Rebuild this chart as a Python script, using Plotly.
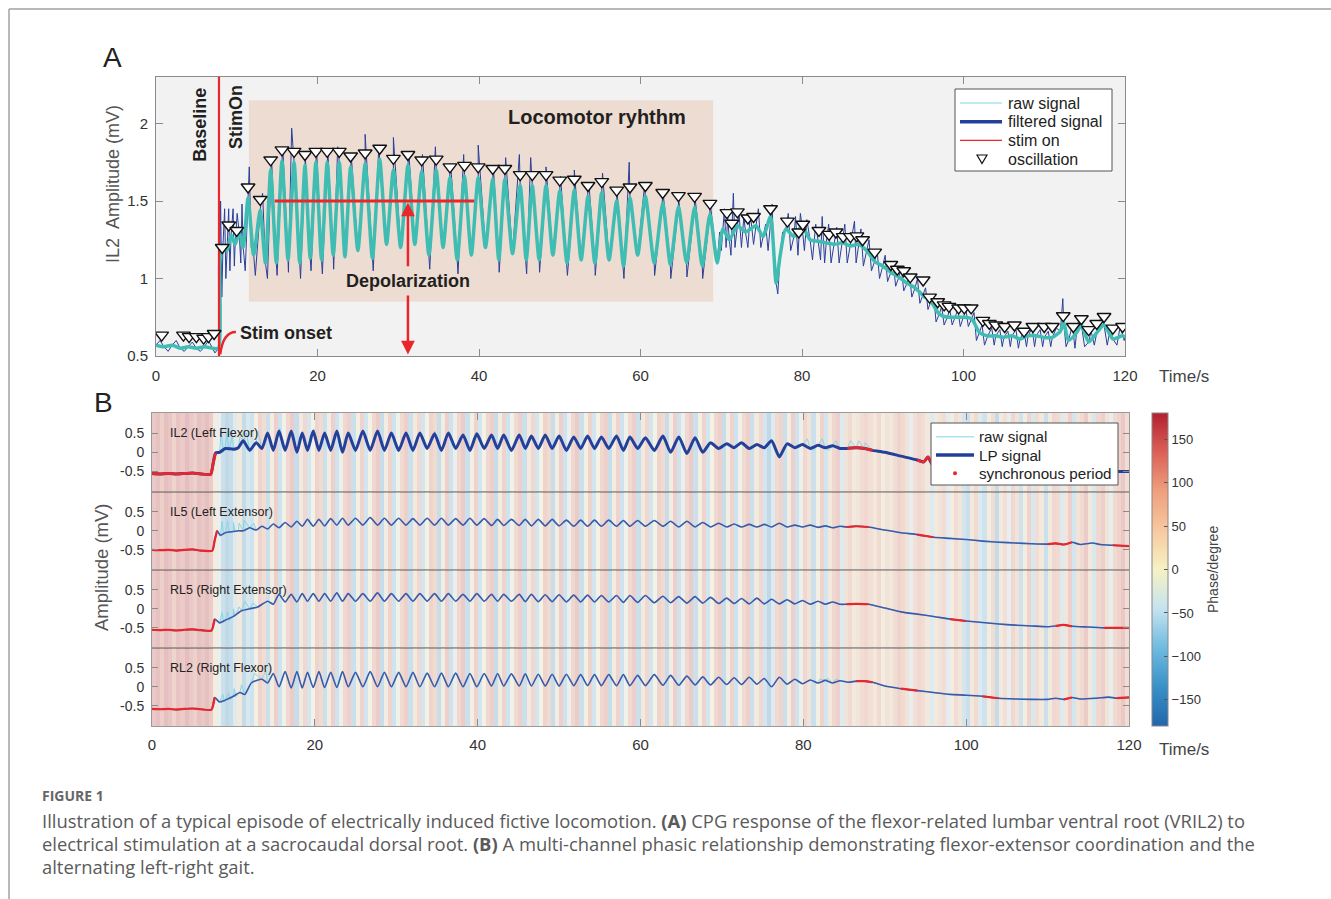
import numpy as np
import plotly.graph_objects as go

# ======================= PANEL A DATA =======================
A_stim_t = 7.8
A_filt_t = [0, 1, 2, 3, 4, 5, 6, 7, 7.75,
            7.9, 8.3, 8.8, 9.3, 9.8, 10.3, 10.8, 11.4, 12.1, 12.9, 13.55,
            14.2, 14.9, 15.6, 16.35, 17.1, 17.8, 18.45, 19.1, 19.8, 20.5,
            21.2, 21.95, 22.7, 23.4, 24.1, 25.0, 25.9, 26.8, 27.7, 28.55,
            29.4, 30.3, 31.2, 32.05, 32.9, 33.8, 34.7, 35.55, 36.4, 37.3,
            38.2, 39.05, 39.9, 40.8, 41.7, 42.45, 43.2, 44.15, 45.1, 45.85,
            46.6, 47.45, 48.3, 49.15, 50.0, 50.9, 51.8, 52.65, 53.5, 54.35,
            55.2, 56.1, 57.05, 57.9, 58.7, 59.65, 60.6, 61.7, 62.75, 63.7,
            64.7, 65.7, 66.7, 67.65, 68.6, 69.5,
            70.2, 71.0, 72.0, 73.0, 74.3, 75.2, 76.1, 76.8, 77.3, 78.0,
            79.0, 80.0, 81.0, 82.0, 83.0, 84.0, 85.0, 86.0, 87.0, 88.0,
            89.0, 90.0, 91.0, 92.0, 93.0, 94.0, 95.0, 96.0, 97.0, 98.0,
            99.0, 100.0, 101.0, 102.0, 103.0, 104.0, 105.0, 106.0, 107.0, 108.0,
            109.0, 110.0, 111.0, 112.0, 112.4, 113.0, 114.0, 114.6, 115.5, 116.5,
            117.4, 118.5, 119.7, 120.0]
A_filt_v = [0.57, 0.56, 0.57, 0.55, 0.56, 0.55, 0.56, 0.55, 0.55,
            1.1, 1.22, 1.18, 1.28, 1.22, 1.3, 1.2, 1.52, 1.15, 1.44, 1.1,
            1.70, 1.10, 1.76, 1.12, 1.75, 1.10, 1.73, 1.13, 1.75, 1.12,
            1.75, 1.15, 1.75, 1.14, 1.72, 1.18, 1.74, 1.13, 1.77, 1.22,
            1.70, 1.20, 1.73, 1.22, 1.69, 1.15, 1.70, 1.20, 1.65, 1.12,
            1.66, 1.15, 1.65, 1.20, 1.64, 1.12, 1.64, 1.16, 1.60, 1.12,
            1.60, 1.12, 1.60, 1.15, 1.565, 1.10, 1.57, 1.12, 1.53, 1.10,
            1.555, 1.12, 1.50, 1.08, 1.52, 1.15, 1.53, 1.10, 1.485, 1.09,
            1.465, 1.10, 1.46, 1.08, 1.415, 1.10,
            1.32, 1.25, 1.34, 1.30, 1.34, 1.27, 1.40, 0.97, 1.15, 1.32,
            1.27, 1.34, 1.25, 1.24, 1.23, 1.22, 1.23, 1.21, 1.22, 1.18,
            1.11, 1.08, 1.04, 1.01, 0.97, 0.94, 0.89, 0.85, 0.77, 0.75,
            0.75, 0.75, 0.74, 0.65, 0.63, 0.63, 0.62, 0.63, 0.61, 0.63,
            0.63, 0.62, 0.62, 0.66, 0.72, 0.60, 0.65, 0.70, 0.59, 0.65,
            0.70, 0.61, 0.63, 0.62]

# extra raw-signal excursions (noise and spikes) around the filtered trace
A_raw_t = [0.5, 1.5, 2.5, 3.5, 4.5, 5.5, 6.5, 7.3,
           8.0, 8.15, 8.5, 8.65, 9.0, 9.15, 9.55, 9.7, 10.05, 10.5,
           10.65, 11.05, 11.55, 11.8, 12.3, 13.2, 13.8,
           14.3, 15.7, 16.8, 18.5, 19.9, 21.3, 22.5, 24.2, 25.9, 27.6,
           29.4, 31.3, 33.0, 34.6, 36.5, 38.1, 39.9, 41.8, 43.3, 45.0,
           46.4, 48.3, 50.1, 51.8, 53.6, 55.3, 57.1, 58.6, 60.5, 62.8,
           64.7, 66.7, 68.6,
           15.0, 16.4, 17.9, 19.2, 20.6, 22.0, 26.9, 33.9, 37.4, 42.5,
           45.9, 47.5, 50.95, 54.4, 57.95, 61.75, 63.75, 65.75, 67.7,
           69.8, 70.0, 70.4, 70.6, 70.8, 71.2, 71.5, 71.7, 72.2, 72.5,
           72.8, 73.3, 73.6, 74.0, 74.6, 74.9, 75.5, 75.8, 76.3, 76.6,
           77.0, 77.6, 78.3, 78.6, 79.2, 79.5, 79.8, 80.3, 80.6, 81.3,
           81.7, 82.3, 82.5, 82.8, 83.3, 83.6, 84.3, 84.6, 85.3, 85.6,
           86.3, 86.5, 86.7, 87.3, 87.6, 88.3, 88.6, 89.3, 89.6, 90.3,
           90.6, 91.3, 91.6, 92.3, 92.6, 93.3, 93.6, 94.3, 94.6, 95.3,
           95.6, 96.3, 96.6, 97.3, 97.6, 98.3, 98.6, 99.3, 99.6, 100.3,
           100.6, 101.3, 101.6, 102.3, 102.6, 103.5, 103.8, 104.5, 104.8, 105.5,
           105.8, 106.5, 106.8, 107.5, 107.8, 108.5, 108.8, 109.5, 109.8, 110.5,
           110.8, 111.5, 112.3, 112.7, 113.5, 113.8, 114.3, 115.0, 115.8, 116.2,
           117.0, 117.8, 118.2, 119.0, 119.4, 119.9]
A_raw_v = [0.6, 0.53, 0.6, 0.53, 0.59, 0.53, 0.6, 0.52,
           1.5, 0.88, 1.45, 1.0, 1.45, 1.05, 1.45, 1.08, 1.42, 1.1,
           1.48, 1.05, 1.72, 1.2, 1.02, 1.55, 1.0,
           1.78, 1.85, 1.97, 1.78, 1.82, 1.8, 1.85, 1.78, 1.93, 1.86,
           1.91, 1.82, 1.8, 1.85, 1.73, 1.8, 1.86, 1.7, 1.78, 1.8,
           1.78, 1.72, 1.66, 1.7, 1.62, 1.68, 1.56, 1.75, 1.6, 1.55,
           1.52, 1.55, 1.5,
           1.02, 1.04, 1.0, 1.05, 1.03, 1.06, 1.05, 1.06, 1.03, 1.04,
           1.03, 1.04, 1.02, 1.02, 1.0, 1.02, 1.0, 1.01, 1.0,
           1.3, 1.18, 1.45, 1.2, 1.4, 1.15, 1.55, 1.2, 1.42, 1.2,
           1.4, 1.2, 1.42, 1.22, 1.45, 1.2, 1.35, 1.18, 1.48, 1.0,
           0.9, 1.3, 1.42, 1.18, 1.4, 1.15, 1.42, 1.18, 1.38, 1.12,
           1.35, 1.12, 1.4, 1.1, 1.35, 1.1, 1.33, 1.1, 1.35, 1.1,
           1.3, 1.37, 1.1, 1.32, 1.08, 1.25, 1.05, 1.18, 1.0, 1.15,
           0.98, 1.1, 0.95, 1.07, 0.92, 1.03, 0.88, 1.0, 0.84, 0.94,
           0.8, 0.9, 0.72, 0.82, 0.7, 0.8, 0.7, 0.8, 0.69, 0.8,
           0.69, 0.78, 0.6, 0.7, 0.57, 0.68, 0.57, 0.67, 0.56, 0.66,
           0.56, 0.67, 0.55, 0.66, 0.56, 0.68, 0.56, 0.67, 0.56, 0.66,
           0.56, 0.68, 0.87, 0.56, 0.7, 0.55, 0.75, 0.56, 0.66, 0.57,
           0.75, 0.57, 0.68, 0.57, 0.69, 0.6]

A_osc_t = [0.7, 3.4, 4.1, 5.0, 5.9, 6.5, 7.2,
           8.2, 9.0, 10.0, 11.4, 12.9,
           14.2, 15.6, 17.1, 18.45, 19.8, 21.2, 22.7, 24.1, 25.9, 27.7,
           29.4, 31.2, 32.9, 34.7, 36.4, 38.2, 39.9, 41.7, 43.2, 45.1,
           46.6, 48.3, 50.0, 51.8, 53.5, 55.2, 57.05, 58.7, 60.6, 62.75,
           64.7, 66.7, 68.6,
           70.7, 71.3, 72.0, 73.3, 74.0, 76.1, 78.2, 79.6, 80.1, 82.1,
           83.35, 84.2, 85.1, 86.0, 86.8, 87.5, 89.0, 91.0, 91.8, 92.6,
           93.4, 95.0, 95.8, 96.8, 97.6, 98.2, 99.4, 100.1, 100.95, 102.4,
           103.2, 104.0, 105.1, 106.3, 107.5, 108.6, 110.0, 111.0, 112.35, 113.6,
           114.6, 115.5, 116.5, 117.4, 118.5, 119.7]
A_osc_v = [0.635, 0.635, 0.625, 0.625, 0.615, 0.625, 0.645,
           1.20, 1.345, 1.31, 1.59, 1.51,
           1.765, 1.83, 1.82, 1.80, 1.82, 1.82, 1.82, 1.79, 1.81, 1.84,
           1.775, 1.80, 1.765, 1.77, 1.72, 1.73, 1.72, 1.71, 1.71, 1.67,
           1.67, 1.67, 1.635, 1.64, 1.60, 1.625, 1.57, 1.59, 1.60, 1.555,
           1.535, 1.53, 1.485,
           1.425, 1.356, 1.43, 1.39, 1.40, 1.45, 1.37, 1.30, 1.35, 1.31,
           1.285, 1.30, 1.27, 1.27, 1.275, 1.25, 1.17, 1.09, 1.06, 1.05,
           1.01, 0.99, 0.88, 0.85, 0.83, 0.82, 0.81, 0.81, 0.81, 0.73,
           0.71, 0.70, 0.69, 0.70, 0.66, 0.69, 0.69, 0.69, 0.76, 0.69,
           0.74, 0.67, 0.71, 0.755, 0.68, 0.69]

A_box = [11.5, 69.0, 0.85, 2.15]          # locomotor rhythm window (t0, t1, v0, v1)
A_depol_line = [14.7, 39.4, 1.5]          # mean depolarisation level
A_depol_t = 31.2

# ======================= PANEL B DATA =======================
B_hi_t = [11.2, 12.8, 14.2, 15.6, 17.1, 18.45, 19.8, 21.2, 22.7, 24.1,
          25.9, 27.7, 29.4, 31.2, 32.9, 34.7, 36.4, 38.2, 39.9, 41.7,
          43.2, 45.1, 46.6, 48.3, 50.0, 51.8, 53.5, 55.2, 57.05, 58.7,
          60.6, 62.75, 64.7, 66.7, 68.6, 70.6, 72.4, 74.3, 76.1, 78.0,
          79.9, 81.8, 83.6]
B_lo_t = [12.0, 13.5, 14.9, 16.35, 17.8, 19.1, 20.5, 21.95, 23.4, 25.0,
          26.8, 28.55, 30.3, 32.05, 33.8, 35.55, 37.3, 39.05, 40.8, 42.45,
          44.15, 45.85, 47.45, 49.15, 50.9, 52.65, 54.35, 56.1, 57.9, 59.65,
          61.7, 63.7, 65.7, 67.65, 69.6, 71.5, 73.35, 75.2, 77.05, 78.95,
          80.85, 82.7, 84.5]

# IL2 (left flexor): values at B_hi_t and B_lo_t
IL2_hi = [0.3, 0.25, 0.5, 0.55, 0.55, 0.5, 0.55, 0.5, 0.55, 0.5,
          0.55, 0.55, 0.5, 0.5, 0.5, 0.48, 0.5, 0.45, 0.48, 0.45,
          0.45, 0.45, 0.42, 0.45, 0.42, 0.4, 0.42, 0.4, 0.42, 0.4,
          0.38, 0.42, 0.4, 0.38, 0.25, 0.22, 0.25, 0.2, 0.3, 0.22,
          0.2, 0.18, 0.17]
IL2_lo = [0.05, 0.1, 0.05, 0.05, 0.0, 0.05, 0.05, 0.05, 0.0, 0.05,
          0.05, 0.05, 0.05, 0.05, 0.1, 0.05, 0.1, 0.05, 0.1, 0.1,
          0.05, 0.1, 0.1, 0.1, 0.05, 0.1, 0.1, 0.1, 0.05, 0.1,
          0.05, 0.0, -0.03, 0.0, 0.1, 0.12, 0.1, 0.12, -0.12, 0.12,
          0.1, 0.12, 0.1]
IL2_pre_t = [0, 1, 2, 3, 4, 5, 6, 7.2, 7.5, 7.8, 8.3, 9.0, 10.0, 10.6]
IL2_pre_v = [-0.55, -0.56, -0.55, -0.56, -0.55, -0.54, -0.56, -0.57, -0.3, -0.02, 0.0, 0.1, 0.08, 0.12]
IL2_post_t = [85.4, 86.5, 87.5, 88.5, 90, 92, 94, 94.8, 95.3, 95.8, 97, 100, 105, 110, 115, 118, 120]
IL2_post_v = [0.1, 0.12, 0.1, 0.05, 0.0, -0.1, -0.2, -0.25, -0.12, -0.3, -0.35, -0.4, -0.45, -0.48, -0.5, -0.5, -0.5]
IL2_spk_t = [8.5, 8.75, 9.2, 9.45, 9.9, 10.2, 10.8, 11.6, 13.0, 15.7, 19.9, 27.7, 34.7,
             80.5, 81.2, 82.3, 83.1, 84.0, 85.8, 86.8, 87.6]
IL2_spk_v = [0.55, 0.0, 0.5, 0.05, 0.45, 0.05, 0.4, 0.5, 0.55, 0.62, 0.6, 0.6, 0.55,
             0.35, 0.05, 0.35, 0.05, 0.3, 0.3, 0.3, 0.25]
IL2_sync = [(0, 7.8), (85.4, 88.5), (94, 95.8)]

# IL5 (left extensor): peaks at B_lo_t, troughs at B_hi_t
IL5_hi = [0.08, 0.12, 0.18, 0.22, 0.25, 0.3, 0.3, 0.32, 0.33, 0.33,
          0.35, 0.33, 0.33, 0.32, 0.33, 0.33, 0.32, 0.33, 0.32, 0.3,
          0.3, 0.3, 0.3, 0.3, 0.28, 0.28, 0.28, 0.28, 0.27, 0.27,
          0.27, 0.25, 0.25, 0.22, 0.2, 0.18, 0.17, 0.17, 0.2, 0.15,
          0.15, 0.13, 0.12]
IL5_lo = [0.0, 0.02, 0.05, 0.08, 0.1, 0.12, 0.12, 0.13, 0.15, 0.15,
          0.15, 0.15, 0.15, 0.15, 0.15, 0.15, 0.15, 0.15, 0.15, 0.14,
          0.14, 0.14, 0.13, 0.13, 0.13, 0.12, 0.12, 0.12, 0.12, 0.12,
          0.12, 0.12, 0.1, 0.1, 0.1, 0.1, 0.1, 0.1, 0.1, 0.1,
          0.1, 0.09, 0.08]
IL5_pre_t = [0, 1, 2, 3, 4, 5, 6, 7.4, 7.7, 8.0, 8.4, 9.0, 10.0, 10.6]
IL5_pre_v = [-0.5, -0.51, -0.5, -0.52, -0.5, -0.49, -0.52, -0.52, -0.25, 0.0, -0.12, -0.05, -0.02, 0.0]
IL5_post_t = [85.3, 86.5, 88, 90, 92, 94, 96, 98, 100, 102, 104, 106, 108, 110, 111, 112, 113, 114, 115.5, 116.5, 118, 120]
IL5_post_v = [0.1, 0.12, 0.1, 0.02, -0.05, -0.1, -0.17, -0.2, -0.23, -0.27, -0.3, -0.32, -0.34, -0.35, -0.33, -0.36, -0.3, -0.36, -0.32, -0.36, -0.38, -0.4]
IL5_spk_t = [8.6, 8.8, 9.3, 9.5, 10.0, 10.2, 10.7, 11.3, 12.5]
IL5_spk_v = [0.25, -0.1, 0.25, -0.05, 0.22, -0.02, 0.2, 0.28, 0.2]
IL5_sync = [(0, 8.0), (85.3, 88), (94, 96), (110, 113), (118, 120)]

# RL5 (right extensor): peaks at B_hi_t, troughs at B_lo_t
RL5_hi = [None, None, 0.2, 0.38, 0.38, 0.4, 0.4, 0.4, 0.42, 0.4,
          0.4, 0.42, 0.4, 0.4, 0.4, 0.4, 0.4, 0.38, 0.4, 0.38,
          0.38, 0.38, 0.38, 0.37, 0.37, 0.36, 0.36, 0.35, 0.35, 0.35,
          0.35, 0.33, 0.32, 0.32, 0.3, 0.28, 0.27, 0.28, 0.25, 0.24,
          0.22, 0.2, 0.18]
RL5_lo = [None, None, 0.12, 0.18, 0.18, 0.2, 0.2, 0.2, 0.2, 0.2,
          0.2, 0.2, 0.2, 0.2, 0.2, 0.2, 0.2, 0.2, 0.2, 0.2,
          0.2, 0.19, 0.19, 0.19, 0.18, 0.18, 0.18, 0.18, 0.17, 0.17,
          0.16, 0.16, 0.15, 0.15, 0.14, 0.14, 0.13, 0.13, 0.13, 0.13,
          0.12, 0.12, 0.12]
RL5_pre_t = [0, 1, 2, 3, 4, 5, 6, 7.3, 7.7, 8.3, 9.0, 10.0, 11.0, 12.0, 13.0]
RL5_pre_v = [-0.55, -0.56, -0.55, -0.57, -0.55, -0.54, -0.56, -0.57, -0.27, -0.37, -0.3, -0.2, -0.05, 0.0, 0.05]
RL5_post_t = [85.3, 86.5, 88, 90, 92, 94, 96, 98, 100, 102, 104, 106, 108, 110, 111, 112, 113, 115, 117, 118, 120]
RL5_post_v = [0.12, 0.13, 0.12, 0.02, -0.08, -0.14, -0.2, -0.27, -0.32, -0.36, -0.4, -0.43, -0.45, -0.47, -0.45, -0.42, -0.46, -0.48, -0.5, -0.5, -0.5]
RL5_spk_t = [8.6, 8.8, 9.3, 9.5, 10.0, 10.2, 10.7, 11.4, 12.4]
RL5_spk_v = [-0.1, -0.35, -0.08, -0.3, 0.0, -0.2, 0.05, 0.2, 0.15]
RL5_sync = [(0, 7.7), (85.3, 88), (98, 100), (111, 113), (117, 120)]

# RL2 (right flexor): peaks at B_lo_t, troughs at B_hi_t
RL2_hi = [None, 0.2, 0.35, 0.4, 0.4, 0.38, 0.4, 0.38, 0.4, 0.38,
          0.4, 0.38, 0.38, 0.38, 0.36, 0.36, 0.36, 0.35, 0.35, 0.35,
          0.34, 0.34, 0.33, 0.33, 0.33, 0.32, 0.32, 0.32, 0.32, 0.3,
          0.32, 0.3, 0.28, 0.26, 0.25, 0.24, 0.25, 0.22, 0.25, 0.2,
          0.18, 0.17, 0.16]
RL2_lo = [None, None, 0.1, 0.0, -0.03, -0.03, -0.02, -0.02, -0.02, 0.0,
          0.0, 0.0, 0.0, 0.0, 0.0, 0.0, 0.0, 0.0, 0.0, 0.02,
          0.02, 0.02, 0.02, 0.02, 0.02, 0.03, 0.03, 0.03, 0.03, 0.03,
          0.03, 0.04, 0.04, 0.05, 0.05, 0.06, 0.06, 0.07, 0.0, 0.07,
          0.08, 0.1, 0.1]
RL2_pre_t = [0, 1, 2, 3, 4, 5, 6, 7.3, 7.7, 8.3, 9.0, 10.0, 10.8, 11.4, 12.2]
RL2_pre_v = [-0.58, -0.59, -0.58, -0.6, -0.58, -0.57, -0.59, -0.6, -0.28, -0.4, -0.35, -0.25, -0.15, -0.2, 0.1]
RL2_post_t = [85.5, 86.5, 87.5, 88.5, 90, 92, 94, 96, 98, 100, 102, 104, 106, 108, 110, 111, 112, 113, 114, 116, 117.5, 118.5, 120]
RL2_post_v = [0.12, 0.15, 0.15, 0.12, 0.02, -0.05, -0.1, -0.15, -0.2, -0.22, -0.25, -0.3, -0.32, -0.33, -0.33, -0.3, -0.33, -0.28, -0.32, -0.3, -0.27, -0.3, -0.28]
RL2_spk_t = [8.7, 8.9, 9.4, 9.6, 10.1, 10.3, 11.0, 12.6, 14.0, 82, 83, 84]
RL2_spk_v = [-0.2, -0.4, -0.15, -0.33, -0.05, -0.25, 0.05, 0.35, 0.42, 0.2, 0.22, 0.2]
RL2_sync = [(0, 7.7), (86.5, 88.5), (92, 94), (102, 104), (112, 113), (118.5, 120)]

# phase (degrees) in 0.5 s bins from 0 to 120 s
phase_bin = 0.5
phase_deg = [
    140, 155, 125, 160, 145, 110, 150, 135, 165, 140, 120, 155, 140, 160, 130,
    20, -30, -100, -130, -110, -60, 40, -120, -70,
    -90, 10, 110, 80, -100, 20, 120, -90, -10, 100,
    130, -110, 30, 100, -80, 0, 110, 90, -100, 20,
    120, -90, -20, 100, 120, -100, 10, 110, -80, 0,
    100, 130, -110, 20, 110, -90, -10, 90, 120, -100,
    30, 100, -80, 0, 110, 90, -110, 20, 120, -90,
    -20, 100, 130, -100, 10, 110, -80, 0, 100, 120,
    -110, 20, 110, -90, -10, 90, 120, -100, 30, 100,
    -80, 0, 110, 90, -110, 20, 120, -90, -20, 100,
    130, -100, 10, 110, -80, 0, 100, 120, -110, 20,
    110, -90, -10, 90, 120, -100, 30, 100, -80, 0,
    110, 90, -110, 20, 120, -90, -20, 100, 130, -100,
    10, 110, -80, 0, 100, 120, -110, 20, 110, -90,
    -10, 90, 120, -100, 30, 100, -80, -130, -60, 90,
    110, -100, 20, 120, -90, -20, 100, 60, -100, 10,
    110, -80, 40, 100, 120, -60,
    60, 90, 30, 50, 80, 100, 70, 40, 90, 20,
    60, 40, 80, 110, 90, 60, -40, 70, 100, 80,
    40, -60, 30, 60, 80, -50, 20, 80, 50, -80,
    -100, 40, 90, -60, -90, 20, 80, -120, 30, 70,
    -40, 100, 60, -90, 20, 110, -70, 80, 40, -100,
    30, 100, 90, -60, 50, 120, -80, 60, 90, 130,
    40, -70, 100, 120, 60, -40, 90, 110, 140, 80]

channel_names = ["IL2 (Left Flexor)", "IL5 (Left Extensor)", "RL5 (Right Extensor)", "RL2 (Right Flexor)"]
colorbar_ticks = [-150, -100, -50, 0, 50, 100, 150]
legendA_labels = ["raw signal", "filtered signal", "stim on", "oscillation"]
legendB_labels = ["raw signal", "LP signal", "synchronous period"]

# ======================= STYLE =======================
W, H = 1331, 899
def fx(p):
    return p / W
def fy(p):
    return 1 - p / H

FONT = "Liberation Sans, Arial, Helvetica, sans-serif"
CAPFONT = "Open Sans, sans-serif"
TEAL = "#3fbdb3"
DARKBLUE = "#2b3f99"
RED = "#e8262b"
CYAN = "#86d6e6"
LEG_CYAN = "#a9e3ec"
LEG_BLUE = "#22409a"
phase_colorscale = [[0.0, '#2166ac'], [0.125, '#3a90c8'], [0.25, '#6fbbe0'], [0.375, '#c5e3ef'],
                    [0.5, '#f6f2c4'], [0.625, '#f7c9a0'], [0.75, '#ef9f7c'], [0.875, '#dc6057'],
                    [1.0, '#b2202e']]


def merge(*pairs):
    t = []
    v = []
    for tt, vv in pairs:
        for a, b in zip(tt, vv):
            if b is not None:
                t.append(a)
                v.append(b)
    order = np.argsort(t, kind="stable")
    return np.array(t)[order], np.array(v)[order]


fig = go.Figure()

# ---------- Panel A ----------
rawA_t, rawA_v = merge((A_filt_t, A_filt_v), (A_raw_t, A_raw_v))
fig.add_trace(go.Scatter(x=rawA_t, y=rawA_v, mode="lines", line=dict(color=DARKBLUE, width=1.0),
                         hoverinfo="skip", xaxis="x", yaxis="y"))
fig.add_trace(go.Scatter(x=A_filt_t, y=A_filt_v, mode="lines",
                         line=dict(color=TEAL, width=3.5, shape="spline", smoothing=0.6),
                         xaxis="x", yaxis="y"))
fig.add_trace(go.Scatter(x=[A_stim_t, A_stim_t], y=[0.5, 2.3], mode="lines",
                         line=dict(color=RED, width=2.2), xaxis="x", yaxis="y"))
fig.add_trace(go.Scatter(x=A_osc_t, y=A_osc_v, mode="markers",
                         marker=dict(symbol="triangle-down", size=12, color="white",
                                     line=dict(color="#111", width=1.4)),
                         xaxis="x", yaxis="y"))

# ---------- Panel B ----------
channels = [
    (IL2_pre_t, IL2_pre_v, IL2_post_t, IL2_post_v, (B_hi_t, IL2_hi), (B_lo_t, IL2_lo), IL2_spk_t, IL2_spk_v, IL2_sync),
    (IL5_pre_t, IL5_pre_v, IL5_post_t, IL5_post_v, (B_lo_t, IL5_hi), (B_hi_t, IL5_lo), IL5_spk_t, IL5_spk_v, IL5_sync),
    (RL5_pre_t, RL5_pre_v, RL5_post_t, RL5_post_v, (B_hi_t, RL5_hi), (B_lo_t, RL5_lo), RL5_spk_t, RL5_spk_v, RL5_sync),
    (RL2_pre_t, RL2_pre_v, RL2_post_t, RL2_post_v, (B_lo_t, RL2_hi), (B_hi_t, RL2_lo), RL2_spk_t, RL2_spk_v, RL2_sync),
]
YR = [-1.03, 1.02]
for i, ch in enumerate(channels):
    pre_t, pre_v, post_t, post_v, hi, lo, spk_t, spk_v, sync = ch
    xa = "x%d" % (i + 2)
    ya = "y%d" % (i + 2)
    fig.add_trace(go.Heatmap(z=[phase_deg], x0=phase_bin / 2, dx=phase_bin, y=YR,
                             zmin=-180, zmax=180, colorscale=phase_colorscale, showscale=False,
                             opacity=0.27, hoverinfo="skip", xaxis=xa, yaxis=ya))
    lp_t, lp_v = merge((pre_t, pre_v), hi, lo, (post_t, post_v))
    raw_t, raw_v = merge((lp_t, lp_v), (spk_t, spk_v))
    fig.add_trace(go.Scatter(x=raw_t, y=raw_v, mode="lines", line=dict(color=CYAN, width=1),
                             hoverinfo="skip", xaxis=xa, yaxis=ya))
    lw = 3 if i == 0 else 1.6
    lc = "#23409a" if i == 0 else "#3b5aa8"
    fig.add_trace(go.Scatter(x=lp_t, y=lp_v, mode="lines",
                             line=dict(color=lc, width=lw, shape="spline", smoothing=0.6),
                             xaxis=xa, yaxis=ya))
    for (a, b) in sync:
        m = (lp_t >= a) & (lp_t <= b)
        fig.add_trace(go.Scatter(x=lp_t[m], y=lp_v[m], mode="lines",
                                 line=dict(color=RED, width=lw - 0.2 if i == 0 else 2.2,
                                           shape="spline", smoothing=0.6),
                                 xaxis=xa, yaxis=ya))

# colorbar holder (point lies outside the visible x range)
fig.add_trace(go.Scatter(x=[-50], y=[0], mode="markers", hoverinfo="skip",
                         marker=dict(color=[0], cmin=-180, cmax=180, colorscale=phase_colorscale, size=2,
                                     showscale=True,
                                     colorbar=dict(thickness=16, thicknessmode="pixels",
                                                   len=313 / H, lenmode="fraction",
                                                   x=fx(1152), xanchor="left", y=fy(569.5), yanchor="middle",
                                                   xpad=0, ypad=0, outlinewidth=1, outlinecolor="#888",
                                                   tickvals=colorbar_ticks, ticks="inside", ticklen=4,
                                                   tickcolor="#555",
                                                   tickfont=dict(size=13, color="#333", family=FONT))),
                         xaxis="x2", yaxis="y2"))

# ---------- Layout ----------
axis_common = dict(showgrid=False, zeroline=False, showline=True, linecolor="#8a8a8a", linewidth=1,
                   tickcolor="#8a8a8a", ticklen=7, tickfont=dict(size=15, color="#333", family=FONT))

layout = dict(
    width=W, height=H, margin=dict(l=0, r=0, t=0, b=0),
    template="none", paper_bgcolor="white", plot_bgcolor="#f2f2f2",
    font=dict(family=FONT, color="#333"), showlegend=False,
    xaxis=dict(domain=[fx(156), fx(1125)], range=[0, 120], anchor="y",
               tickvals=[0, 20, 40, 60, 80, 100, 120], ticks="inside", mirror="ticks",
               ticklabelstandoff=6, **axis_common),
    yaxis=dict(domain=[fy(356), fy(77)], range=[0.5, 2.3], anchor="x",
               tickvals=[0.5, 1, 1.5, 2], ticktext=["0.5", "1", "1.5", "2"],
               ticks="inside", mirror="ticks", ticklabelstandoff=4, **axis_common),
)

strip_px = [(413, 492), (492, 570), (570, 648), (648, 726)]
for i, (top, bot) in enumerate(strip_px):
    k = i + 2
    xa = dict(domain=[fx(152), fx(1129)], range=[0, 120], anchor="y%d" % k,
              tickvals=[0, 20, 40, 60, 80, 100, 120], **axis_common)
    xa["linecolor"] = "#9a9a9a"
    if i == 0:
        xa.update(side="top", ticks="inside", showticklabels=False, mirror=True)
    elif i == 3:
        xa.update(side="bottom", ticks="inside", showticklabels=True, mirror=True, ticklabelstandoff=5)
    else:
        xa.update(ticks="", showticklabels=False, mirror=True)
    ya = dict(domain=[fy(bot), fy(top)], range=YR, anchor="x%d" % k,
              tickvals=[-0.5, 0, 0.5], ticktext=["-0.5", "0", "0.5"], ticks="inside",
              mirror="ticks", ticklabelstandoff=4, **axis_common)
    ya["tickfont"] = dict(size=14, color="#333", family=FONT)
    ya["ticklen"] = 6
    ya["linecolor"] = "#9a9a9a"
    layout["xaxis%d" % k] = xa
    layout["yaxis%d" % k] = ya

fig.update_layout(**layout)


def pline(x0, x1, y, color, width):
    return dict(type="line", xref="paper", yref="paper", x0=fx(x0), x1=fx(x1), y0=fy(y), y1=fy(y),
                line=dict(color=color, width=width))


def prect(x0, y0, x1, y1):
    return dict(type="rect", xref="paper", yref="paper", x0=fx(x0), x1=fx(x1), y0=fy(y1), y1=fy(y0),
                fillcolor="white", line=dict(color="#555", width=1))


# shapes
tri_x, tri_y = 982, 159
shapes = [
    dict(type="rect", xref="x", yref="y", x0=A_box[0], x1=A_box[1], y0=A_box[2], y1=A_box[3],
         fillcolor="#ecdcd2", line=dict(width=0), layer="below"),
    dict(type="line", xref="x", yref="y", x0=A_depol_line[0], x1=A_depol_line[1],
         y0=A_depol_line[2], y1=A_depol_line[2], line=dict(color=RED, width=3)),
    dict(type="path", xref="x", yref="y", path="M 9.9,0.655 Q 8.3,0.655 7.95,0.51",
         line=dict(color=RED, width=2.5)),
    # figure frame
    dict(type="line", xref="paper", yref="paper", x0=fx(9), x1=1, y0=fy(9), y1=fy(9),
         line=dict(color="#a0a0a0", width=1.5)),
    dict(type="line", xref="paper", yref="paper", x0=fx(9), x1=fx(9), y0=0, y1=fy(9),
         line=dict(color="#a0a0a0", width=1.5)),
    # legend A
    prect(955, 89, 1112, 171),
    pline(960, 1002, 103, LEG_CYAN, 1.5),
    pline(960, 1002, 121.7, LEG_BLUE, 3.5),
    pline(960, 1002, 140.3, RED, 1.2),
    dict(type="path", xref="paper", yref="paper",
         path="M %f,%f L %f,%f L %f,%f Z" % (fx(tri_x - 5), fy(tri_y - 4), fx(tri_x + 5), fy(tri_y - 4),
                                               fx(tri_x), fy(tri_y + 4.5)),
         line=dict(color="#111", width=1.2), fillcolor="white"),
    # legend B
    prect(931, 423, 1118, 485),
    pline(936, 974, 436.7, LEG_CYAN, 1.5),
    pline(936, 974, 455, LEG_BLUE, 3.5),
    dict(type="circle", xref="paper", yref="paper", x0=fx(953), x1=fx(957), y0=fy(475.3), y1=fy(471.3),
         fillcolor=RED, line=dict(width=0)),
]
fig.update_layout(shapes=shapes)

ann = []
bold = dict(family=FONT, color="#231f20")
ann += [
    dict(x=5.4, y=1.99, xref="x", yref="y", text="<b>Baseline</b>", textangle=-90, showarrow=False,
         font=dict(size=18, **bold)),
    dict(x=10.0, y=2.04, xref="x", yref="y", text="<b>StimOn</b>", textangle=-90, showarrow=False,
         font=dict(size=18, **bold)),
    dict(x=54.6, y=2.04, xref="x", yref="y", text="<b>Locomotor ryhthm</b>", showarrow=False,
         font=dict(size=20, **bold)),
    dict(x=10.2, y=0.65, xref="x", yref="y", text="<b>Stim onset</b>", showarrow=False, xanchor="left",
         font=dict(size=18, **bold)),
    dict(x=A_depol_t, y=0.985, xref="x", yref="y", text="<b>Depolarization</b>", showarrow=False,
         font=dict(size=18, **bold)),
    dict(x=A_depol_t, y=1.49, ax=A_depol_t, ay=1.07, xref="x", yref="y", axref="x", ayref="y",
         text="", showarrow=True, arrowhead=2, arrowsize=1.1, arrowwidth=2.5, arrowcolor=RED),
    dict(x=A_depol_t, y=0.51, ax=A_depol_t, ay=0.9, xref="x", yref="y", axref="x", ayref="y",
         text="", showarrow=True, arrowhead=2, arrowsize=1.1, arrowwidth=2.5, arrowcolor=RED),
]
for i, name in enumerate(channel_names):
    ann.append(dict(x=2.0, y=0.5, xref="x%d" % (i + 2), yref="y%d" % (i + 2), text=name,
                    xanchor="left", yanchor="middle", showarrow=False,
                    font=dict(size=12.5, color="#222", family=FONT)))


def pann(x, y, text, size, color="#333", angle=0, xanchor="center", family=FONT):
    return dict(x=fx(x), y=fy(y), xref="paper", yref="paper", text=text, showarrow=False,
                textangle=angle, xanchor=xanchor, yanchor="middle",
                font=dict(size=size, color=color, family=family))


for lbl, yy in zip(legendA_labels, [103, 121.7, 140.3, 159]):
    ann.append(pann(1006, yy, lbl, 16, "#222", 0, "left"))
for lbl, yy in zip(legendB_labels, [436.7, 455, 473.3]):
    ann.append(pann(977, yy, lbl, 15.2, "#222", 0, "left"))

ann += [
    pann(113, 57, "A", 28, "#222"),
    pann(103, 402, "B", 28, "#222"),
    pann(113, 184, "IL2  Amplitude (mV)", 18, "#555", -90),
    pann(101, 568, "Amplitude (mV)", 18.5, "#555", -90),
    pann(1157, 376, "Time/s", 17, "#444", 0, "left"),
    pann(1157, 749, "Time/s", 17, "#444", 0, "left"),
    pann(1213, 570, "Phase/degree", 14, "#444", -90),
    pann(40, 795, "<b>FIGURE 1</b>", 14, "#666", 0, "left", CAPFONT),
    pann(40, 820, "Illustration of a typical episode of electrically induced fictive locomotion. <b>(A)</b> CPG response of the flexor-related lumbar ventral root (VRIL2) to",
         18.4, "#5a5a5a", 0, "left", CAPFONT),
    pann(40, 843, "electrical stimulation at a sacrocaudal dorsal root. <b>(B)</b> A multi-channel phasic relationship demonstrating flexor-extensor coordination and the",
         18.4, "#5a5a5a", 0, "left", CAPFONT),
    pann(40, 866, "alternating left-right gait.", 18.4, "#5a5a5a", 0, "left", CAPFONT),
]
fig.update_layout(annotations=ann)

fig.write_html("out.html", config={"displayModeBar": False},
               post_script="document.body.style.margin='0';document.body.style.overflow='hidden';")
